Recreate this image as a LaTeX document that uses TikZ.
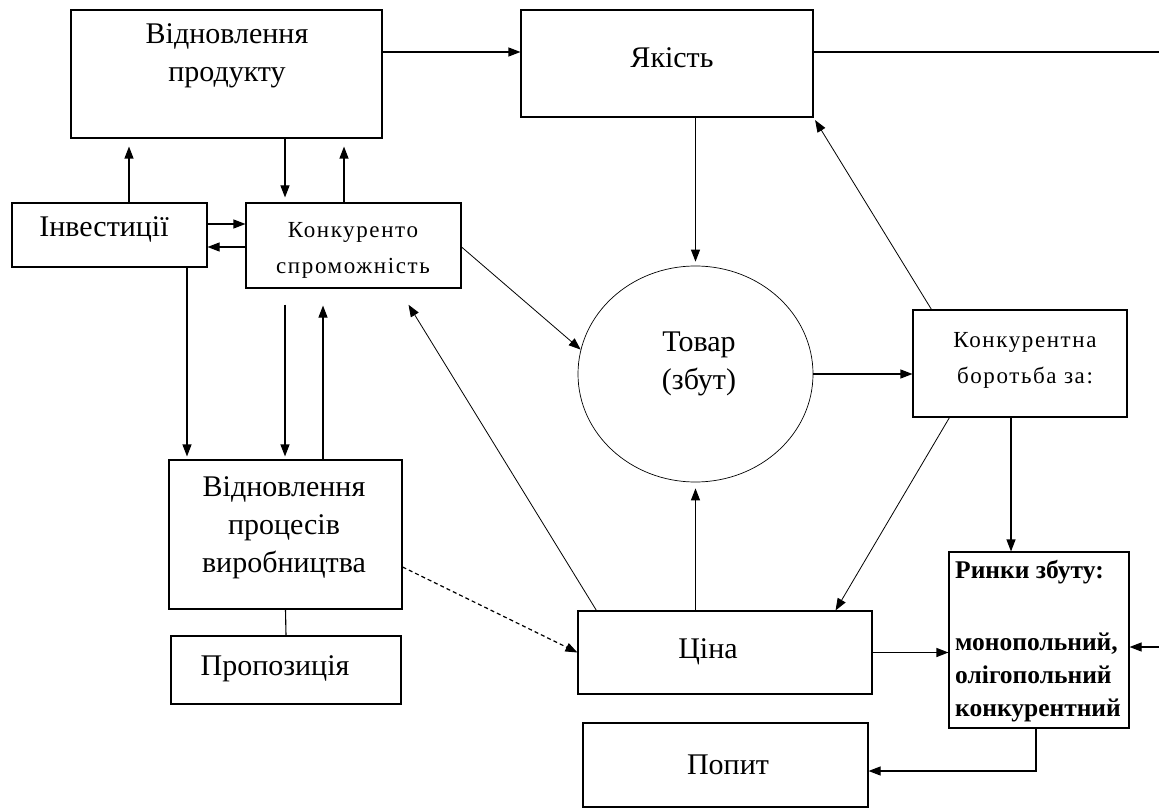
\documentclass[tikz,border=0pt]{standalone}
\usepackage{fontspec}
\setmainfont{Liberation Serif}
\newfontfamily\thinfont[LetterSpace=7]{Liberation Serif}
\usetikzlibrary{shapes.geometric, arrows.meta, calc}

\tikzset{
    box/.style={draw, line width=1.1pt, inner sep=0pt},
    txt/.style={font=\fontsize{30}{38}\selectfont, align=center, inner sep=0pt},
    thintxt/.style={font=\thinfont\fontsize{23}{36}\selectfont, align=center, inner sep=0pt},
    boldtxt/.style={font=\bfseries\fontsize{25.5}{33}\selectfont, align=left, inner sep=0pt, anchor=north west},
    arr/.style={-{Triangle[length=12pt,width=9pt]}, line width=1.1pt},
    diag/.style={-{Triangle[length=12pt,width=9pt]}, line width=0.8pt},
    plain/.style={line width=1.1pt}
}

\begin{document}
\begin{tikzpicture}[x=1pt, y=-1pt]
    \useasboundingbox (0,0) rectangle (1159,810);

    % Boxes
    \node[box, minimum width=311pt, minimum height=128pt] (vidnprod) at (226.5,74) {};
    \node[box, minimum width=292pt, minimum height=107pt] (yakist) at (667,63.5) {};
    \node[box, minimum width=195pt, minimum height=64pt] (inv) at (109.5,235) {};
    \node[box, minimum width=215pt, minimum height=85pt] (konk) at (353.5,245.5) {};
    \node[box, minimum width=233pt, minimum height=149pt] (vidnproc) at (285.5,534.5) {};
    \node[box, minimum width=230pt, minimum height=68pt] (propoz) at (286,670) {};
    \node[ellipse, draw, line width=0.7pt, minimum width=235pt, minimum height=216pt, inner sep=0pt] (tovar) at (695.5,374) {};
    \node[box, minimum width=214pt, minimum height=107pt] (borotba) at (1020,363.5) {};
    \node[box, minimum width=180pt, minimum height=176pt] (rynky) at (1039,640) {};
    \node[box, minimum width=294pt, minimum height=83pt] (tsina) at (725,652.5) {};
    \node[box, minimum width=285pt, minimum height=84pt] (popyt) at (725.5,765) {};

    % Texts
    \node[txt] (vidnprodtxt) at (227,56) {Відновлення\\продукту};
    \node[txt] (yakisttxt) at (672,58) {Якість};
    \node[txt] (invtxt) at (104,229) {Інвестиції};
    \node[thintxt] (konktxt) at (353,250) {Конкуренто\\спроможність};
    \node[txt] (vidnproctxt) at (284,528) {Відновлення\\процесів\\виробництва};
    \node[txt] (propoztxt) at (275,669) {Пропозиція};
    \node[txt] (tovartxt) at (699,364) {Товар\\(збут)};
    \node[thintxt] (borotbatxt) at (1025,360) {Конкурентна\\боротьба за:};
    \node[txt] (tsinatxt) at (708,652) {Ціна};
    \node[txt] (popyttxt) at (728,765) {Попит};
    \node[boldtxt] (rynkytxt) at (955,560) {Ринки збуту:\\[39pt]монопольний,\\олігопольний\\конкурентний};

    % Free ends at the right margin
    \coordinate (edgeA) at (1159,52);
    \coordinate (edgeB) at (1159,647);

    % Top row
    \draw[arr] ([yshift=22pt]vidnprod.east) -- ([yshift=22pt]vidnprod.east -| yakist.west);
    \draw[plain] ([yshift=11.5pt]yakist.east) -- (edgeA);

    % Around the competitiveness box
    \draw[arr, shorten >=8pt] ([xshift=19.5pt]inv.north) -- ([xshift=19.5pt]inv.north |- vidnprod.south);
    \draw[arr, shorten >=5pt] ([xshift=58.5pt]vidnprod.south) -- ([xshift=58.5pt]vidnprod.south |- konk.north);
    \draw[arr, shorten >=8pt] ([xshift=-9.5pt]konk.north) -- ([xshift=-9.5pt]konk.north |- vidnprod.south);
    \draw[arr] ([yshift=11pt]inv.east) -- ([yshift=11pt]inv.east -| konk.west);
    \draw[arr] ([yshift=-1.5pt]konk.west) -- ([yshift=-1.5pt]konk.west -| inv.east);

    % Down to production renewal
    \draw[arr, shorten >=3pt] ([xshift=77.5pt]inv.south) -- ([xshift=77.5pt]inv.south |- vidnproc.north);
    \draw[arr, shorten <=16pt, shorten >=3pt] ([xshift=-68.5pt]konk.south) -- ([xshift=-68.5pt]konk.south |- vidnproc.north);
    \draw[arr, shorten >=17pt] ([xshift=37.5pt]vidnproc.north) -- ([xshift=37.5pt]vidnproc.north |- konk.south);
    \draw[plain] (vidnproc.south) -- (propoz.north);
    \draw[arr, line width=1.2pt, dash pattern=on 4pt off 3pt] ([yshift=-32.5pt]vidnproc.east) -- (tsina.west);

    % Goods (sales)
    \draw[diag] ([yshift=-1.5pt]konk.east) -- (tovar.168);
    \draw[arr, shorten >=4pt] (tovar.north |- yakist.south) -- (tovar.north);
    \draw[arr, shorten >=6pt] (tovar.south |- tsina.north) -- (tovar.south);
    \draw[arr] (tovar.east) -- (tovar.east -| borotba.west);

    % Diagonals
    \draw[diag, shorten >=19pt] ([xshift=19pt]tsina.north west) -- ([xshift=-63pt]konk.south east);
    \draw[diag, shorten >=3pt] ([xshift=19pt]borotba.north west) -- (yakist.south east);
    \draw[diag] ([xshift=37pt]borotba.south west) -- ([xshift=-37pt]tsina.north east);

    % Markets
    \draw[arr] ([xshift=-9pt]borotba.south) -- ([xshift=-9pt]borotba.south |- rynky.north);
    \draw[arr] (tsina.east) -- (tsina.east -| rynky.west);
    \draw[arr] (edgeB) -- (edgeB -| rynky.east);
    \draw[arr] ([xshift=-3pt]rynky.south) |- ([yshift=-6pt]popyt.east);
\end{tikzpicture}
\end{document}
